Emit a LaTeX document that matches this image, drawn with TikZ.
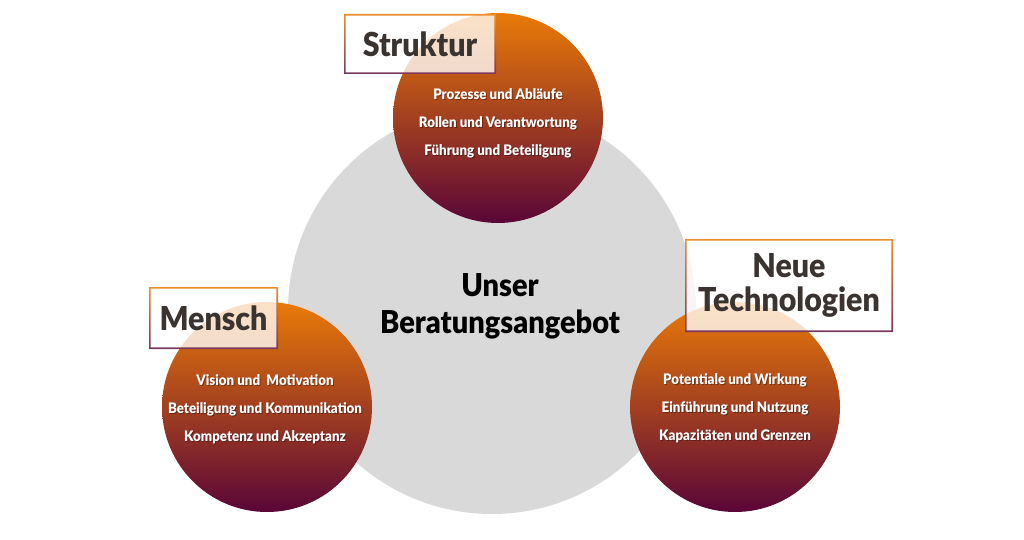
\documentclass[tikz,border=0pt]{standalone}
\usepackage{fontspec}
\setmainfont{Lato}
\newfontfamily\lab[FakeStretch=0.92]{Lato Black}
\usetikzlibrary{calc}
\definecolor{corange}{HTML}{EA7A08}
\definecolor{cpurple}{HTML}{5A0638}
\definecolor{cgray}{HTML}{D9D9D9}
\definecolor{ctext}{HTML}{3A3330}
\tikzset{
  bubble/.style={circle, minimum size=210pt, inner sep=0pt, top color=corange, bottom color=cpurple},
  itemtext/.style={text=white, font=\lab\fontsize{14.5}{28}\selectfont, align=center, inner sep=0pt},
  itemshadow/.style={itemtext, text=black, text opacity=0.35},
  labelbox/.style={fill=white, fill opacity=0.78, text opacity=1, text=ctext, font=\lab\fontsize{33}{34}\selectfont, align=center, inner sep=0pt},
  gradframe/.style={top color=corange!85, bottom color=cpurple!80, even odd rule},
  centretext/.style={text=black, font=\lab\fontsize{31.5}{37}\selectfont, align=center, inner sep=0pt}
}
\newcommand\myboxframe[1]{%
  \shade[gradframe] ($(#1.north west)+(-0.8,-0.8)$) rectangle ($(#1.south east)+(0.8,0.8)$)
                ($(#1.north west)+(0.8,0.8)$) rectangle ($(#1.south east)+(-0.8,-0.8)$);}
\begin{document}
\begin{tikzpicture}[x=1pt, y=-1pt]
\useasboundingbox (0,0) rectangle (1024,540);
\fill[white] (0,0) rectangle (1024,540);
% big grey circle
\node[circle, fill=cgray, minimum size=408pt, inner sep=0pt] (core) at (492,310) {};
\node[centretext] (coretext) at (500,306) {Unser\\Beratungsangebot};
% coloured circles
\node[bubble] (struk) at (498,118) {};
\node[bubble] (mensch) at (267,407) {};
\node[bubble] (tech) at (735,407) {};
% item texts
\node[itemshadow] at (499,124) {Prozesse und Abläufe\\Rollen und Verantwortung\\Führung und Beteiligung};
\node[itemtext] (struktext) at (498,123) {Prozesse und Abläufe\\Rollen und Verantwortung\\Führung und Beteiligung};
\node[itemshadow] at (266,410) {Vision und\ \ Motivation\\Beteiligung und Kommunikation\\Kompetenz und Akzeptanz};
\node[itemtext] (menschtext) at (265,409) {Vision und\ \ Motivation\\Beteiligung und Kommunikation\\Kompetenz und Akzeptanz};
\node[itemshadow] at (736,409) {Potentiale und Wirkung\\Einführung und Nutzung\\Kapazitäten und Grenzen};
\node[itemtext] (techtext) at (735,408) {Potentiale und Wirkung\\Einführung und Nutzung\\Kapazitäten und Grenzen};
% label boxes
\node[labelbox, minimum width=150pt, minimum height=58pt] (strukbox) at (420,44) {Struktur};
\myboxframe{strukbox}
\node[labelbox, minimum width=127pt, minimum height=60pt] (menschbox) at (213.5,318) {Mensch};
\myboxframe{menschbox}
\node[labelbox, minimum width=206pt, minimum height=91pt] (techbox) at (789,285.5) {Neue\\Technologien};
\myboxframe{techbox}
\end{tikzpicture}
\end{document}
